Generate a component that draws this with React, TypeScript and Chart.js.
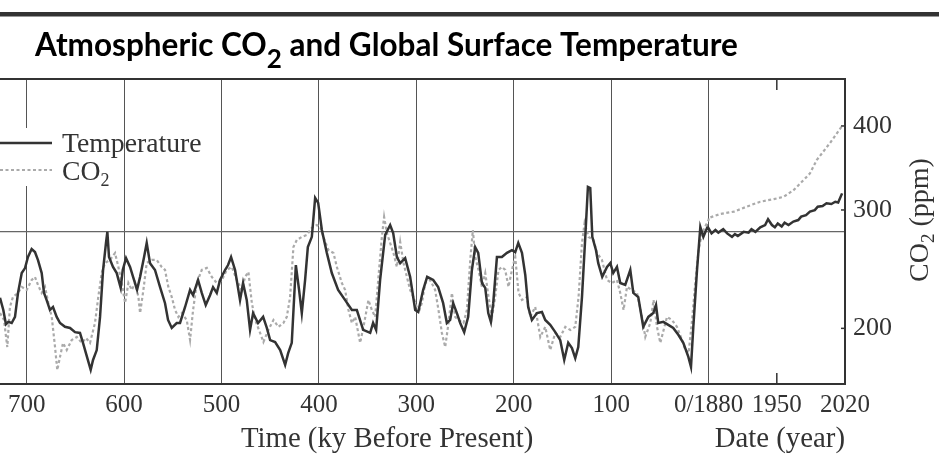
import React, { useEffect, useRef } from "react";
import { Chart, registerables } from "chart.js";

Chart.register(...registerables);

// ---------- DATA ----------
// Paleo temperature (global surface temperature anomaly, °C) vs age (ky before present)
const paleoTempAges = [
  727.4, 724.0, 721.3, 718.9, 715.4, 712.0, 708.9, 705.1, 701.7, 698.7,
  694.9, 691.5, 688.4, 684.6, 682.2, 679.5, 676.1, 673.0, 669.2, 665.8,
  660.7, 655.5, 650.4, 645.3, 642.2, 638.1, 634.3, 631.9, 628.1, 624.7,
  621.6, 618.6, 617.2, 615.5, 611.4, 607.6, 603.5, 601.4, 598.0, 593.9,
  590.8, 586.7, 583.6, 579.5, 576.8, 573.4, 568.3, 563.1, 558.0, 554.9,
  551.1, 546.0, 542.6, 537.4, 532.3, 529.2, 524.1, 520.3, 516.2, 511.8,
  508.7, 504.9, 501.5, 496.4, 493.3, 490.2, 486.1, 481.0, 477.9, 474.1,
  470.7, 467.6, 462.5, 457.3, 453.5, 450.1, 445.0, 439.8, 434.7, 431.6,
  427.9, 423.7, 420.4, 417.6, 414.2, 411.4, 407.3, 403.9, 400.8, 397.0,
  391.9, 386.8, 380.3, 373.1, 366.2, 361.1, 354.6, 347.4, 344.4, 341.3,
  337.2, 332.0, 326.9, 323.8, 320.0, 316.6, 311.5, 306.4, 301.2, 298.1,
  293.0, 288.9, 282.7, 277.6, 272.5, 268.7, 265.3, 262.2, 258.4, 255.0,
  250.9, 246.8, 243.0, 239.6, 236.5, 232.7, 229.3, 226.2, 223.5, 221.1,
  217.3, 212.2, 207.0, 201.9, 198.5, 195.4, 191.6, 188.2, 185.2, 181.4,
  176.2, 171.1, 167.7, 162.6, 157.4, 152.3, 148.2, 144.1, 140.3, 136.9,
  133.8, 130.0, 126.6, 123.9, 121.5, 119.4, 115.6, 113.3, 109.2, 104.3,
  100.9, 97.9, 94.1, 90.7, 85.6, 80.4, 77.3, 72.2, 67.1, 61.9,
  56.8, 54.0, 51.7, 46.5, 41.4, 36.3, 31.1, 26.0, 20.8, 18.1,
  15.7, 11.9, 8.5, 5.4, 1.6, 0,
];
const paleoTempValues = [
  -1.74, -2.06, -2.43, -2.37, -2.40, -2.24, -1.61, -1.09, -0.96, -0.67,
  -0.46, -0.54, -0.75, -1.09, -1.61, -1.80, -2.06, -1.98, -2.24, -2.40,
  -2.50, -2.53, -2.64, -2.66, -2.92, -3.29, -3.63, -3.37, -3.11, -2.24,
  -1.01, -0.30, -0.01, -0.67, -0.93, -1.09, -1.48, -1.01, -0.70, -0.93,
  -1.19, -1.53, -1.19, -0.67, -0.30, -0.83, -1.01, -1.46, -1.88, -2.32,
  -2.53, -2.40, -2.40, -1.98, -1.53, -1.67, -1.27, -1.61, -1.93, -1.67,
  -1.46, -1.61, -1.27, -1.01, -0.88, -0.67, -1.01, -1.80, -1.35, -1.80,
  -2.58, -2.14, -2.40, -2.24, -2.53, -2.85, -2.90, -3.11, -3.50, -3.19,
  -2.92, -0.88, -1.53, -2.14, -1.27, -0.41, -0.14, 0.88, 0.75, 0.04,
  -0.56, -1.09, -1.53, -1.80, -2.06, -2.06, -2.58, -2.66, -2.40, -2.58,
  -1.27, -0.09, 0.17, -0.04, -0.67, -0.83, -0.70, -1.19, -2.06, -2.11,
  -1.53, -1.19, -1.27, -1.46, -1.88, -2.40, -2.32, -1.88, -2.14, -2.40,
  -2.64, -2.24, -1.01, -0.41, -0.56, -1.35, -1.48, -2.14, -2.37, -1.88,
  -0.67, -0.67, -0.56, -0.49, -0.54, -0.30, -0.56, -1.14, -1.98, -2.32,
  -2.14, -2.11, -2.32, -2.45, -2.64, -2.85, -3.37, -2.92, -3.06, -3.32,
  -3.03, -1.72, -0.14, 1.17, 1.14, -0.14, -0.49, -0.83, -1.19, -0.93,
  -0.83, -1.09, -0.93, -1.35, -1.40, -1.01, -1.61, -1.72, -2.50, -2.24,
  -2.14, -1.93, -2.40, -2.37, -2.45, -2.53, -2.71, -2.92, -3.29, -3.55,
  -2.50, -1.01, 0.12, -0.14, 0.09, 0.07,
];

// Paleo CO2 (ppm) vs age (ky before present)
const paleoCo2Ages = [
  727.4, 723.3, 719.9, 717.2, 714.1, 708.9, 705.1, 700.0, 694.9, 691.5,
  688.4, 684.6, 681.2, 677.8, 674.3, 670.9, 668.6, 665.8, 662.7, 658.9,
  653.8, 648.6, 643.5, 639.1, 635.0, 629.9, 626.5, 623.0, 619.6, 614.5,
  609.3, 605.9, 602.4, 599.0, 595.6, 592.1, 588.7, 585.3, 583.6, 580.2,
  576.8, 571.6, 566.5, 561.4, 558.0, 554.6, 551.1, 547.7, 544.3, 540.8,
  535.7, 532.3, 529.2, 525.4, 520.3, 515.1, 510.0, 504.9, 499.7, 494.6,
  489.5, 484.3, 479.2, 475.8, 472.4, 468.9, 465.5, 460.4, 457.0, 451.9,
  446.7, 441.6, 436.5, 433.0, 429.6, 426.2, 422.7, 417.6, 412.4, 407.3,
  402.2, 398.8, 395.4, 390.3, 385.1, 381.6, 376.5, 373.1, 369.7, 366.2,
  362.8, 357.7, 354.3, 349.2, 345.7, 342.3, 338.9, 335.4, 333.1, 330.3,
  326.9, 323.5, 320.0, 316.6, 313.2, 309.7, 306.4, 303.0, 297.8, 294.3,
  290.9, 285.8, 280.7, 277.3, 273.8, 270.4, 267.0, 263.5, 260.1, 256.8,
  251.6, 248.1, 244.7, 242.0, 239.6, 236.2, 232.7, 229.3, 225.9, 222.4,
  219.1, 215.7, 212.2, 208.8, 205.4, 201.9, 198.5, 195.1, 191.6, 186.5,
  183.1, 178.0, 172.8, 167.7, 162.6, 157.4, 152.3, 147.1, 142.0, 136.9,
  133.5, 130.0, 127.3, 123.2, 118.1, 114.6, 109.5, 104.3, 99.2, 94.1,
  90.7, 87.3, 83.8, 78.7, 73.5, 68.4, 65.0, 59.9, 56.5, 53.0,
  49.6, 46.2, 42.7, 37.6, 32.5, 27.3, 23.9, 20.5, 17.0, 13.7,
  10.3, 6.8, 1.6, 0,
];
const paleoCo2Values = [
  210.8, 205.8, 187.6, 215.2, 222.7, 225.8, 230.5, 228.1, 236.0, 238.5,
  232.0, 225.8, 230.5, 218.2, 208.0, 187.6, 173.4, 181.4, 190.3, 185.7,
  192.2, 194.2, 190.3, 193.5, 190.3, 203.7, 222.7, 241.8, 250.2, 252.8,
  258.9, 246.8, 233.6, 218.2, 233.6, 228.1, 233.6, 222.7, 210.8, 228.1,
  250.2, 252.8, 252.8, 246.8, 244.3, 230.5, 222.7, 213.0, 208.0, 210.8,
  205.8, 192.2, 213.0, 233.6, 244.3, 246.0, 238.5, 233.6, 236.0, 244.3,
  246.8, 236.0, 228.1, 238.5, 242.6, 218.2, 205.8, 196.9, 190.9, 198.9,
  205.8, 201.0, 203.7, 208.0, 222.7, 264.3, 270.7, 273.5, 275.4, 282.1,
  285.0, 283.0, 273.5, 261.6, 258.9, 246.8, 233.6, 228.1, 213.0, 203.7,
  208.0, 190.3, 201.0, 220.4, 213.0, 208.0, 238.5, 273.5, 292.9, 277.3,
  267.9, 258.9, 246.8, 268.9, 250.2, 238.5, 228.1, 222.7, 210.8, 218.2,
  233.6, 236.0, 228.1, 213.0, 196.9, 187.6, 203.7, 225.8, 208.0, 205.8,
  203.7, 213.0, 252.8, 280.1, 255.4, 244.3, 230.5, 241.8, 222.7, 208.0,
  222.7, 244.3, 246.8, 244.3, 230.5, 244.3, 255.4, 225.8, 220.4, 222.7,
  208.0, 215.2, 194.2, 201.0, 185.7, 196.9, 194.2, 201.0, 198.9, 201.0,
  222.7, 267.9, 286.9, 273.5, 270.7, 258.9, 252.8, 236.0, 233.6, 236.0,
  225.8, 213.0, 230.5, 228.1, 225.8, 208.0, 194.2, 203.7, 220.4, 201.0,
  190.3, 198.9, 208.0, 205.8, 201.0, 192.2, 185.7, 183.8, 205.8, 233.6,
  261.6, 277.3, 286.9, 289.9,
];

// Instrumental era (calendar year)
const modernTempYears = [
  1880, 1883, 1887, 1890, 1895, 1899, 1904, 1907, 1910, 1916,
  1921, 1924, 1928, 1933, 1938, 1941, 1945, 1948, 1951, 1955,
  1958, 1962, 1967, 1972, 1975, 1980, 1984, 1989, 1992, 1997,
  2001, 2006, 2010, 2013, 2017,
];
const modernTempValues = [
  0.08, -0.05, 0.04, -0.03, 0.06, -0.05, -0.14, -0.07, -0.12, -0.01,
  -0.03, 0.06, -0.01, 0.11, 0.17, 0.32, 0.17, 0.11, 0.21, 0.13,
  0.23, 0.17, 0.26, 0.30, 0.39, 0.43, 0.52, 0.56, 0.65, 0.67,
  0.74, 0.72, 0.78, 0.76, 1.00,
];
const modernCo2Years = [1880, 1892, 1906, 1919, 1933, 1947, 1957, 1967, 1977, 1984, 1991, 2005, 2017];
const modernCo2Values = [291.9, 295.9, 298.3, 303.4, 308.6, 311.4, 313.8, 320.9, 331.8, 340.0, 356.0, 378.0, 400.0];

// Axis ticks
const paleoTickAges = [700, 600, 500, 400, 300, 200, 100, 0];
const modernTickYears = [1950, 2020];
const co2Ticks = [200, 300, 400];
const BASE_YEAR = 1880;

// Text
const TITLE_PARTS = [
  { text: "Atmospheric CO" },
  { text: "2", sub: true },
  { text: " and Global Surface Temperature" },
];
const LEGEND_TEMP = "Temperature";
const LEGEND_CO2 = [{ text: "CO" }, { text: "2", sub: true }];
const XTITLE_PALEO = "Time (ky Before Present)";
const XTITLE_MODERN = "Date (year)";
const YTITLE_CO2 = [{ text: "CO" }, { text: "2", sub: true }, { text: " (ppm)" }];

// ---------- helpers ----------
const SERIF = '"Liberation Serif", "Times New Roman", serif';
const TEXT_COLOR = "#333";
const TEMP_COLOR = "#333";
const CO2_COLOR = "#aaaaaa";

type Part = { text: string; sub?: boolean };

function measureParts(ctx: CanvasRenderingContext2D, parts: Part[], font: string, subFont: string) {
  let w = 0;
  for (const p of parts) {
    ctx.font = p.sub ? subFont : font;
    w += ctx.measureText(p.text).width;
  }
  return w;
}

function drawParts(
  ctx: CanvasRenderingContext2D,
  parts: Part[],
  x: number,
  y: number,
  font: string,
  subFont: string,
  subDy: number
) {
  let cx = x;
  ctx.textAlign = "left";
  ctx.textBaseline = "alphabetic";
  for (const p of parts) {
    ctx.font = p.sub ? subFont : font;
    ctx.fillText(p.text, cx, p.sub ? y + subDy : y);
    cx += ctx.measureText(p.text).width;
  }
  return cx;
}

const decorPlugin = {
  id: "decor",
  afterDraw(chart: any) {
    const { ctx, chartArea: a, scales } = chart;
    const xs = scales.x;
    const ys = scales.y;
    ctx.save();

    // top thick rule
    ctx.fillStyle = "#333";
    ctx.fillRect(0, 12, chart.width, 4.5);

    // title
    ctx.fillStyle = "#000";
    drawParts(ctx, TITLE_PARTS, 35, 56, 'bold 31.5px "Lato", sans-serif', 'bold 26px "Lato", sans-serif', 11.5);

    // top border of plot
    ctx.strokeStyle = "#333";
    ctx.lineWidth = 2;
    ctx.beginPath();
    ctx.moveTo(a.left, a.top);
    ctx.lineTo(a.right + 1, a.top);
    ctx.stroke();

    // inward ticks at 1950
    ctx.lineWidth = 1.5;
    for (const yr of modernTickYears) {
      if (yr === 2020) continue;
      const px = xs.getPixelForValue(yr - BASE_YEAR);
      ctx.beginPath();
      ctx.moveTo(px, a.top);
      ctx.lineTo(px, a.top + 11);
      ctx.moveTo(px, a.bottom);
      ctx.lineTo(px, a.bottom - 11);
      ctx.stroke();
    }
    // inward ticks on right axis
    for (const v of co2Ticks) {
      const py = ys.getPixelForValue(v);
      ctx.beginPath();
      ctx.moveTo(a.right - 4, py);
      ctx.lineTo(a.right, py);
      ctx.stroke();
    }

    // legend
    ctx.fillStyle = "#fff";
    ctx.fillRect(a.left, 128, 56, 58);
    ctx.strokeStyle = TEMP_COLOR;
    ctx.lineWidth = 2.5;
    ctx.beginPath();
    ctx.moveTo(a.left, 143);
    ctx.lineTo(a.left + 52, 143);
    ctx.stroke();
    ctx.strokeStyle = CO2_COLOR;
    ctx.lineWidth = 2.2;
    ctx.setLineDash([3, 2.5]);
    ctx.beginPath();
    ctx.moveTo(a.left, 170);
    ctx.lineTo(a.left + 52, 170);
    ctx.stroke();
    ctx.setLineDash([]);
    ctx.fillStyle = TEXT_COLOR;
    ctx.font = `27.7px ${SERIF}`;
    ctx.textAlign = "left";
    ctx.textBaseline = "alphabetic";
    ctx.fillText(LEGEND_TEMP, a.left + 62, 152);
    drawParts(ctx, LEGEND_CO2, a.left + 62, 180, `27.7px ${SERIF}`, `18px ${SERIF}`, 6);

    // axis titles
    ctx.font = `28.8px ${SERIF}`;
    ctx.textAlign = "center";
    ctx.fillText(XTITLE_PALEO, xs.getPixelForValue(-330), 447);
    ctx.textAlign = "right";
    ctx.fillText(XTITLE_MODERN, a.right, 447);

    // right axis title (rotated)
    ctx.translate(928, 220);
    ctx.rotate(-Math.PI / 2);
    const w = measureParts(ctx, YTITLE_CO2, `28px ${SERIF}`, `19px ${SERIF}`);
    drawParts(ctx, YTITLE_CO2, -w / 2, 0, `28px ${SERIF}`, `19px ${SERIF}`, 6);

    ctx.restore();
  },
};

export default function App() {
  const ref = useRef<HTMLCanvasElement | null>(null);

  useEffect(() => {
    if (!ref.current) return;
    const tempData = [
      ...paleoTempAges.map((age, i) => ({ x: -age, y: paleoTempValues[i] })),
      ...modernTempYears.map((yr, i) => ({ x: yr - BASE_YEAR, y: modernTempValues[i] })),
    ];
    const co2Data = [
      ...paleoCo2Ages.map((age, i) => ({ x: -age, y: paleoCo2Values[i] })),
      ...modernCo2Years.map((yr, i) => ({ x: yr - BASE_YEAR, y: modernCo2Values[i] })),
    ];
    const xTickValues = [
      ...paleoTickAges.map((a) => -a),
      ...modernTickYears.map((yr) => yr - BASE_YEAR),
    ];

    const chart = new Chart(ref.current, {
      type: "line",
      data: {
        datasets: [
          {
            label: "Temperature",
            data: tempData,
            yAxisID: "yT",
            borderColor: TEMP_COLOR,
            borderWidth: 2.5,
            pointRadius: 0,
            tension: 0,
          },
          {
            label: "CO2",
            data: co2Data,
            yAxisID: "y",
            borderColor: CO2_COLOR,
            borderWidth: 2.2,
            borderDash: [3, 2.5],
            pointRadius: 0,
            tension: 0,
          },
        ],
      },
      options: {
        responsive: false,
        animation: false,
        events: [],
        layout: { padding: { top: 79, left: 0, right: 0, bottom: 0 } },
        plugins: { legend: { display: false }, tooltip: { enabled: false }, title: { display: false } },
        scales: {
          x: {
            type: "linear",
            position: "bottom",
            min: -727.4,
            max: 140,
            afterBuildTicks: (axis: any) => {
              axis.ticks = xTickValues.map((v) => ({ value: v }));
            },
            afterFit: (axis: any) => {
              axis.height = 78;
            },
            ticks: {
              autoSkip: false,
              maxRotation: 0,
              minRotation: 0,
              padding: 6,
              color: TEXT_COLOR,
              font: { family: SERIF, size: 25 },
              callback: (v: any) => {
                const n = Number(v);
                if (n < 0) return String(-n);
                if (n === 0) return `0/${BASE_YEAR}`;
                return String(BASE_YEAR + n);
              },
            },
            grid: {
              drawTicks: false,
              lineWidth: 1,
              color: (c: any) => (c.tick && c.tick.value <= 0 ? "#555" : "rgba(0,0,0,0)"),
            },
            border: { display: true, color: "#333", width: 2 },
          },
          y: {
            type: "logarithmic",
            position: "right",
            min: 165.3,
            max: 469.8,
            afterBuildTicks: (axis: any) => {
              axis.ticks = co2Ticks.map((v) => ({ value: v }));
            },
            afterFit: (axis: any) => {
              axis.width = 94;
            },
            ticks: {
              padding: 8,
              color: TEXT_COLOR,
              font: { family: SERIF, size: 26 },
              callback: (v: any) => String(v),
            },
            grid: { display: false, drawTicks: false },
            border: { display: true, color: "#333", width: 2 },
          },
          yT: {
            type: "linear",
            position: "left",
            min: -4,
            max: 4,
            afterBuildTicks: (axis: any) => {
              axis.ticks = [{ value: 0 }];
            },
            afterFit: (axis: any) => {
              axis.width = 0;
            },
            ticks: { display: false },
            grid: { drawTicks: false, color: "#666", lineWidth: 1.2 },
            border: { display: false },
          },
        },
      },
      plugins: [decorPlugin],
    } as any);
    return () => chart.destroy();
  }, []);

  return (
    <div style={{ position: "fixed", left: 0, top: 0, width: 939, height: 462, background: "#fff" }}>
      <canvas ref={ref} width={939} height={462} style={{ display: "block" }} />
    </div>
  );
}
